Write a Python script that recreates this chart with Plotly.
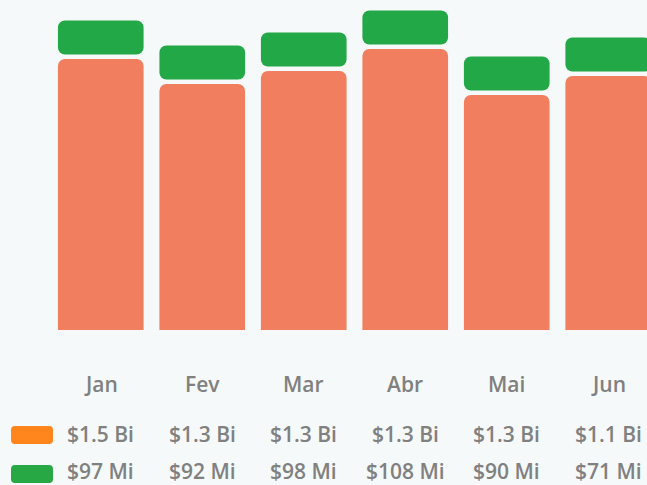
import plotly.graph_objects as go

months = ["Jan", "Fev", "Mar", "Abr", "Mai", "Jun"]
# bar heights (chart units, axis 0..330)
orange_vals = [271, 246, 259, 281, 235, 254]
green_vals = [34, 34, 34, 34, 34, 34]
gap = 4.5
orange_labels = ["$1.5 Bi", "$1.3 Bi", "$1.3 Bi", "$1.3 Bi", "$1.3 Bi", "$1.1 Bi"]
green_labels = ["$97 Mi", "$92 Mi", "$98 Mi", "$108 Mi", "$90 Mi", "$71 Mi"]

BAR_ORANGE = "#F07E5F"
BAR_GREEN = "#22A846"
SW_ORANGE = "#FF851C"
SW_GREEN = "#27A844"
TEXT = "#808080"
BG = "#F6F9FA"
FONT = "Open Sans"
FS = 21

fig = go.Figure()
fig.add_trace(go.Bar(x=months, y=orange_vals, xaxis="x2",
                     marker=dict(color=BAR_ORANGE, line=dict(width=0), cornerradius=7),
                     hoverinfo="skip"))
fig.add_trace(go.Bar(x=months, y=green_vals, base=[o + gap for o in orange_vals],
                     marker=dict(color=BAR_GREEN, line=dict(width=0), cornerradius=7), hoverinfo="skip"))

annotations = []
for i, m in enumerate(months):
    for txt, ys in ((m, -54), (orange_labels[i], -104), (green_labels[i], -140.5)):
        annotations.append(dict(x=m, y=0, xref="x", yref="paper", yshift=ys, text=txt, showarrow=False,
                                yanchor="middle", xanchor="center", borderpad=0,
                                font=dict(family=FONT, size=FS, color=TEXT, weight=600)))


def rrect(l, rt, b, t, r):
    return (f"M {l+r},{b} L {rt-r},{b} Q {rt},{b} {rt},{b+r} L {rt},{t-r} Q {rt},{t} {rt-r},{t} "
            f"L {l+r},{t} Q {l},{t} {l},{t-r} L {l},{b+r} Q {l},{b} {l+r},{b} Z")


shapes = [
    dict(type="path", xref="paper", yref="paper", xsizemode="pixel", ysizemode="pixel", xanchor=0, yanchor=0,
         path=rrect(-39, 3, -114, -96, 4), fillcolor=SW_ORANGE, line=dict(width=0)),
    dict(type="path", xref="paper", yref="paper", xsizemode="pixel", ysizemode="pixel", xanchor=0, yanchor=0,
         path=rrect(-39, 3, -153, -135, 4), fillcolor=SW_GREEN, line=dict(width=0)),
]

axis_common = dict(range=[-0.5, 5.382], showticklabels=False, showgrid=False, zeroline=False, showline=False,
                   fixedrange=True, type="category", categoryarray=months, categoryorder="array")
fig.update_layout(
    width=647, height=485,
    margin=dict(l=50, r=0, t=0, b=155),
    paper_bgcolor=BG, plot_bgcolor=BG,
    barmode="overlay", bargap=0.156,
    showlegend=False,
    xaxis=axis_common,
    xaxis2=dict(axis_common, overlaying="x", side="top"),
    yaxis=dict(range=[0, 330], visible=False, fixedrange=True),
    annotations=annotations,
    shapes=shapes,
)

fig.write_html("out.html", config={"displayModeBar": False})
